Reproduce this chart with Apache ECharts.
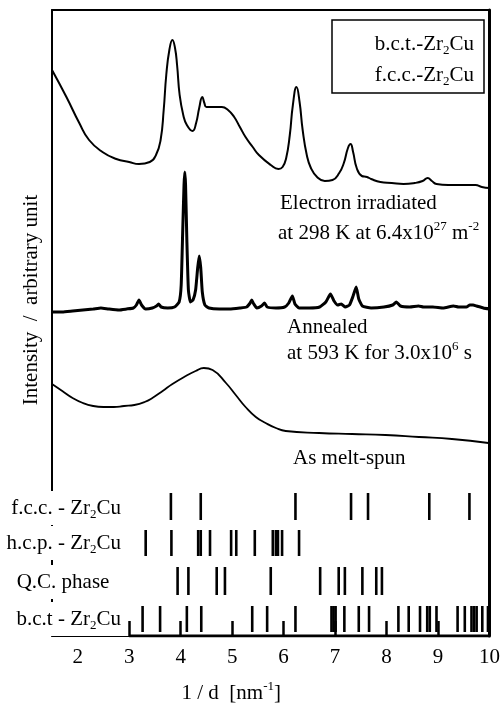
<!DOCTYPE html>
<html>
<head>
<meta charset="utf-8">
<script src="https://cdn.jsdelivr.net/npm/echarts/dist/echarts.min.js"></script>
<style>html,body{margin:0;padding:0;background:#fff;}#c{width:503px;height:709px;}</style>
</head>
<body>
<div id="c"></div>
<script>
// ---------- data ----------
const xTickLabels = [2, 3, 4, 5, 6, 7, 8, 9, 10];
const bctAxisTicks = [3, 4, 5, 6, 7, 8, 9, 10];

// Electron irradiated (1/d, intensity a.u.)
const irradiatedX = [1.5,1.78,2.03,2.22,2.48,2.75,3.0,3.19,3.40,3.52,3.61,3.67,3.72,3.78,3.84,3.89,3.93,3.98,4.05,4.12,4.23,4.30,4.36,4.42,4.46,4.50,4.62,4.80,4.92,5.04,5.15,5.26,5.40,5.52,5.75,5.90,5.98,6.05,6.12,6.18,6.25,6.31,6.37,6.45,6.53,6.65,6.80,6.95,7.08,7.17,7.25,7.30,7.35,7.42,7.52,7.62,7.70,7.88,8.10,8.33,8.55,8.70,8.80,8.88,8.97,9.20,9.45,9.63,9.73,9.85,10.0];
const irradiatedY = [566,539,513,496,484,477,474,472,474,481,496,526,561,586,596,588,571,541,521,511,505,513,528,539,533,529,529,529,526,519,509,499,489,481,471,467,469,478,501,531,549,534,506,481,468,459,455,456,463,473,488,492,484,468,460,459,457,454,453,452,453,455,458,455,452,451,451,451,451,449,448];

// Annealed
const annealedX = [1.5,1.70,1.90,2.10,2.30,2.45,2.60,2.80,2.95,3.08,3.14,3.19,3.24,3.32,3.45,3.53,3.57,3.62,3.75,3.88,3.97,4.01,4.04,4.065,4.08,4.095,4.12,4.15,4.19,4.24,4.29,4.33,4.36,4.39,4.42,4.47,4.55,4.75,4.95,5.15,5.28,5.35,5.38,5.42,5.48,5.57,5.63,5.68,5.85,6.02,6.10,6.17,6.22,6.30,6.50,6.70,6.82,6.91,6.98,7.05,7.12,7.20,7.28,7.35,7.41,7.46,7.53,7.70,7.95,8.12,8.19,8.27,8.45,8.62,8.72,8.90,9.10,9.30,9.40,9.55,9.62,9.68,9.75,9.88,10.0];
const annealedY = [324,324,325,326,327,328,327,326,327,328,331,336,331,327,328,330,332,329,328,329,334,351,406,451,464,451,396,346,334,336,346,368,380,368,344,331,328,327,327,328,329,333,336,332,328,330,333,329,328,329,333,340,332,328,328,329,334,342,335,331,332,329,331,340,349,337,330,328,329,331,334,330,329,330,329,329,328,330,329,329,331,331,330,328,327];

// As melt-spun
const meltX = [1.5,1.7,1.9,2.1,2.3,2.5,2.7,2.9,3.1,3.3,3.45,3.65,3.84,4.10,4.29,4.45,4.62,4.88,5.07,5.26,5.46,5.65,5.85,6.04,6.69,7.33,7.98,8.63,9.27,9.98];
const meltY = [252,245,238,233,230,229,229,230,231,234,238,245,252,260,265,268,266,253,241,229,219,213,208,205,203,202,201,199,197,193];

// Reference line positions (1/d, nm^-1)
const fccLines = [3.81,4.39,6.23,7.31,7.64,8.83,9.61];
const hcpLines = [3.32,3.82,4.34,4.39,4.57,4.98,5.08,5.44,5.79,5.85,5.89,5.97,6.30];
const qcLines  = [3.94,4.15,4.70,4.86,5.75,6.71,7.07,7.19,7.53,7.80,7.91];
const bctLines = [3.26,3.60,4.12,4.40,5.39,5.68,6.23,6.93,6.97,7.01,7.18,7.46,7.66,8.23,8.43,8.65,8.79,8.84,8.97,9.38,9.52,9.65,9.70,9.75,9.86,9.97];

const rowNames = ['{n|f.c.c. - Zr}{s|2}{n|Cu}', '{n|h.c.p. - Zr}{s|2}{n|Cu}', '{n|Q.C. phase}', '{n|b.c.t - Zr}{s|2}{n|Cu}'];

// ---------- layout / style ----------
const FONT = '"Liberation Serif", "Times New Roman", serif';
const ROW_SPANS = [[116, 143], [80, 106], [41, 69], [4, 30]];
const rowData = [];
[fccLines, hcpLines, qcLines, bctLines].forEach((arr, r) => arr.forEach(v => rowData.push([v, r])));
const pairs = (xs, ys) => xs.map((x, i) => [x, ys[i]]);

const RICH = {
  n: { font: '21px ' + FONT, lineHeight: 26, verticalAlign: 'middle', fill: '#000' },
  s: { font: '13px ' + FONT, lineHeight: 13, verticalAlign: 'bottom', fill: '#000' },
  p: { font: '13px ' + FONT, lineHeight: 13, verticalAlign: 'top', fill: '#000' }
};
function txt(x, y, text, align, bg) {
  const st = { text: text, rich: RICH, font: '21px ' + FONT, fill: '#000', textAlign: align, textVerticalAlign: 'middle' };
  if (bg) { st.backgroundColor = '#fff'; st.padding = [4, 2, 4, 2]; }
  return { type: 'text', x: x, y: y, z: 100, style: st };
}

const chart = echarts.init(document.getElementById('c'), null, { renderer: 'canvas' });
const option = {
  animation: false,
  backgroundColor: '#fff',
  grid: { left: 52, right: 12, top: 10, bottom: 73 },
  xAxis: [{
    type: 'value', min: 1.5, max: 10, position: 'bottom',
    axisLine: { show: true, onZero: false, lineStyle: { color: '#000', width: 1.2 } },
    axisTick: { show: true, inside: true, length: 15, customValues: bctAxisTicks, lineStyle: { color: '#000', width: 2.5 } },
    axisLabel: { customValues: xTickLabels, fontFamily: FONT, fontSize: 21, color: '#000', margin: 11 },
    splitLine: { show: false },
    name: '{n|1 / d  [nm}{p|-1}{n|]}', nameLocation: 'middle', nameGap: 44,
    nameTextStyle: {
      padding: [0, 79, 0, 0],
      rich: {
        n: { fontFamily: FONT, fontSize: 21, color: '#000', lineHeight: 26, verticalAlign: 'middle' },
        p: { fontFamily: FONT, fontSize: 13, color: '#000', lineHeight: 13, verticalAlign: 'top' }
      }
    }
  }, {
    type: 'value', min: 1.5, max: 10, position: 'top',
    axisLine: { show: true, onZero: false, lineStyle: { color: '#000', width: 2 } },
    axisTick: { show: false }, axisLabel: { show: false }, splitLine: { show: false }
  }],
  yAxis: [{
    type: 'value', min: 0, max: 626, position: 'left',
    axisLine: { show: true, onZero: false, lineStyle: { color: '#000', width: 2 } },
    axisTick: { show: false }, axisLabel: { show: false }, splitLine: { show: false },
    name: 'Intensity  /  arbitrary unit', nameLocation: 'middle', nameGap: 10,
    nameTextStyle: { fontFamily: FONT, fontSize: 21, color: '#000', padding: [0, 0, 0, 46] }
  }, {
    type: 'value', min: 0, max: 626, position: 'right',
    axisLine: { show: true, onZero: false, lineStyle: { color: '#000', width: 3 } },
    axisTick: { show: false }, axisLabel: { show: false }, splitLine: { show: false }
  }],
  series: [
    { name: 'Electron irradiated', type: 'line', data: pairs(irradiatedX, irradiatedY), showSymbol: false, smooth: 0.5,
      lineStyle: { color: '#000', width: 2 } },
    { name: 'Annealed', type: 'line', data: pairs(annealedX, annealedY), showSymbol: false, smooth: 0.15,
      lineStyle: { color: '#000', width: 3 } },
    { name: 'As melt-spun', type: 'line', data: pairs(meltX, meltY), showSymbol: false, smooth: 0.5,
      lineStyle: { color: '#000', width: 1.8 } },
    { name: 'b.c.t. baseline', type: 'line', data: [[bctAxisTicks[0], 0], [bctAxisTicks[bctAxisTicks.length - 1], 0]],
      showSymbol: false, lineStyle: { color: '#000', width: 3 }, z: 5 },
    { name: 'reference lines', type: 'custom', data: rowData,
      renderItem: function (params, api) {
        const x = api.value(0), r = api.value(1);
        const sp = ROW_SPANS[r];
        const p0 = api.coord([x, sp[0]]), p1 = api.coord([x, sp[1]]);
        return { type: 'line', shape: { x1: p0[0], y1: p0[1], x2: p1[0], y2: p1[1] }, style: { stroke: '#000', lineWidth: 2.6 } };
      } }
  ],
  graphic: [
    { type: 'rect', z: 100, shape: { x: 332, y: 20, width: 152, height: 73 }, style: { fill: '#fff', stroke: '#000', lineWidth: 1.5 } },
    txt(474, 44, '{n|b.c.t.-Zr}{s|2}{n|Cu}', 'right'),
    txt(474, 75, '{n|f.c.c.-Zr}{s|2}{n|Cu}', 'right'),
    txt(280, 203, '{n|Electron irradiated}', 'left'),
    txt(278, 233, '{n|at 298 K at 6.4x10}{p|27}{n| m}{p|-2}', 'left'),
    txt(287, 327, '{n|Annealed}', 'left'),
    txt(287, 353, '{n|at 593 K for 3.0x10}{p|6}{n| s}', 'left'),
    txt(293, 458, '{n|As melt-spun}', 'left'),
    txt(123, 508, rowNames[0], 'right', true),
    txt(123, 543, rowNames[1], 'right', true),
    txt(63, 582, rowNames[2], 'center', true),
    txt(123, 619, rowNames[3], 'right', true)
  ]
};
chart.setOption(option);
</script>
</body>
</html>
